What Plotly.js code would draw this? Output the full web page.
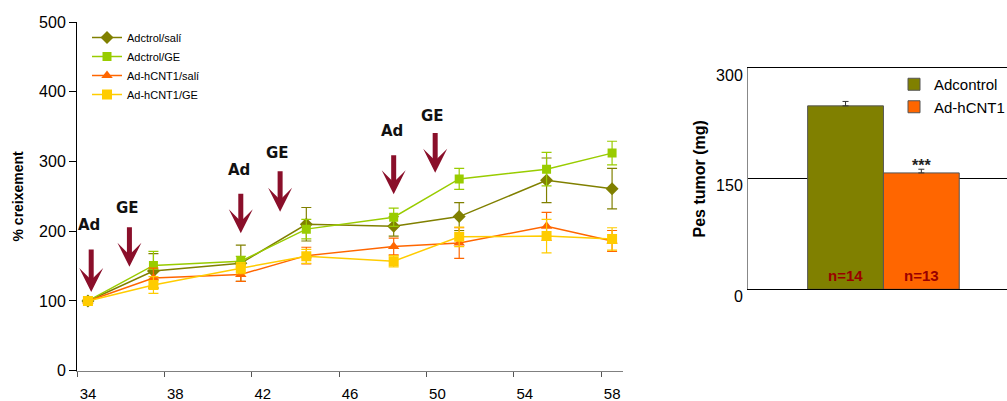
<!DOCTYPE html>
<html>
<head>
<meta charset="utf-8">
<script src="https://cdn.plot.ly/plotly-3.0.1.min.js"></script>
<style>html,body{margin:0;padding:0;background:#fff;}#chart{width:1007px;height:401px;}</style>
</head>
<body>
<div id="chart"></div>
<script>
// ---- Left chart: % growth vs day ----
const days = [34, 37, 41, 44, 48, 51, 55, 58];
const adctrolSali = [100, 143, 154, 210, 207, 221, 273, 261];
const adctrolSaliErr = [2, 25, 26, 24, 14, 20, 32, 29];
const adctrolGE = [100, 151, 157, 203, 220, 275, 289, 312];
const adctrolGEErr = [2, 20, 7, 14, 13, 15, 24, 17];
const hcntSali = [100, 133, 138, 165, 178, 183, 207, 186];
const hcntSaliErr = [2, 14, 10, 12, 12, 22, 20, 15];
const hcntGE = [100, 123, 147, 164, 157, 192, 193, 189];
const hcntGEErr = [2, 12, 8, 10, 8, 14, 24, 16];
const seriesNames = ['Adctrol/salí', 'Adctrol/GE', 'Ad-hCNT1/salí', 'Ad-hCNT1/GE'];
const xTickLabels = [34, 38, 42, 46, 50, 54, 58];
const yTicksLeft = [0, 100, 200, 300, 400, 500];

// treatment arrows: day, tip value, tail value, label, label value
const arrowLabels = ['Ad', 'GE', 'Ad', 'GE', 'Ad', 'GE'];
const arrowDays = [34.15, 35.9, 41.0, 42.8, 48.0, 49.9];
const arrowTips = [113, 149, 197, 228, 253, 284];
const arrowTails = [176, 208, 256, 288, 311, 343];
const arrowLabelY = [209, 233, 288, 312, 344, 365];

// ---- Right chart: tumour weight ----
const barNames = ['Adcontrol', 'Ad-hCNT1'];
const barValues = [249, 158];
const barErrors = [6, 5];
const barN = ['n=14', 'n=13'];
const yTicksRight = [0, 150, 300];

const W = 1007, H = 401;
const px = v => v / W, py = v => 1 - v / H;

const colors = ['#808000', '#99CC00', '#FF6600', '#FFCC00'];
const symbols = ['diamond', 'square', 'triangle-up', 'square'];
const sizes = [10, 9, 10, 10];
const ys = [adctrolSali, adctrolGE, hcntSali, hcntGE];
const errs = [adctrolSaliErr, adctrolGEErr, hcntSaliErr, hcntGEErr];

const traces = [];
for (let i = 0; i < 4; i++) {
  traces.push({
    type: 'scatter', mode: 'lines+markers',
    x: days, y: ys[i], name: seriesNames[i],
    xaxis: 'x', yaxis: 'y', legend: 'legend',
    line: {color: colors[i], width: 1.5},
    marker: {color: colors[i], symbol: symbols[i], size: sizes[i]},
    error_y: {type: 'data', array: errs[i], visible: true, color: colors[i], thickness: 1.2, width: 5}
  });
}
const barColors = ['#808000', '#FF6600'];
for (let i = 0; i < 2; i++) {
  traces.push({
    type: 'bar', x: [0], y: [barValues[i]], name: barNames[i],
    xaxis: 'x3', yaxis: 'y3', legend: 'legend2',
    marker: {color: barColors[i], line: {color: '#555555', width: 1}},
    error_y: {type: 'data', symmetric: false, array: [barErrors[i]], arrayminus: [0], color: '#333333', thickness: 1, width: 3}
  });
}

const font = {family: 'Liberation Sans, Arial, sans-serif', color: '#000'};
const annotations = [];
const arrowColor = '#8A0F2A';
for (let i = 0; i < arrowDays.length; i++) {
  annotations.push({
    xref: 'x', yref: 'y', axref: 'x', ayref: 'y',
    x: arrowDays[i], y: arrowTips[i], ax: arrowDays[i], ay: arrowTails[i],
    text: '', showarrow: true, arrowhead: 3, arrowwidth: 5, arrowsize: 0.8, arrowcolor: arrowColor
  });
  annotations.push({
    xref: 'x', yref: 'y', x: arrowDays[i] - 0.1, y: arrowLabelY[i], showarrow: false,
    text: '<b>' + arrowLabels[i] + '</b>',
    font: {family: 'DejaVu Sans, Verdana, sans-serif', size: 15, color: '#111'}
  });
}
const barOffsets = [-0.15, 0.15];
annotations.push({
  xref: 'x3', yref: 'y3', x: barOffsets[1], y: barValues[1] + barErrors[1], yanchor: 'bottom', yshift: -7,
  showarrow: false, text: '<b>***</b>', font: {family: font.family, size: 16, color: '#222'}
});
for (let i = 0; i < 2; i++) {
  annotations.push({
    xref: 'x3', yref: 'y3', x: barOffsets[i], y: 0, yanchor: 'bottom', yshift: 3,
    showarrow: false, text: '<b>' + barN[i] + '</b>', font: {family: font.family, size: 15, color: '#990000'}
  });
}

const layout = {
  width: W, height: H,
  margin: {l: 0, r: 0, t: 0, b: 0, autoexpand: false},
  paper_bgcolor: '#fff', plot_bgcolor: 'rgba(0,0,0,0)',
  font: font,
  showlegend: true,
  barmode: 'group', bargap: 0.4,
  xaxis: {
    domain: [px(77), px(623)], anchor: 'y', range: [33.5, 58.5],
    tickvals: xTickLabels.map(v => v - 0.5), ticktext: xTickLabels.map(String),
    ticklabelshift: 11, ticklabelstandoff: 4, ticks: 'outside', ticklen: 5, tickcolor: '#555',
    showline: true, linecolor: '#808080', linewidth: 1.5, showgrid: false, zeroline: false,
    tickfont: {size: 15, family: font.family}
  },
  yaxis: {
    domain: [1 - 370.7 / H, 1 - 22 / H], anchor: 'x', range: [0, 500],
    tickvals: yTicksLeft, ticks: 'outside', ticklen: 7, tickcolor: '#000',
    showline: true, linecolor: '#000', linewidth: 1, showgrid: false, zeroline: false,
    tickfont: {size: 16, family: font.family},
    title: {text: '<b>% creixement</b>', font: {size: 14, family: font.family}, standoff: 12}
  },
  xaxis3: {
    domain: [px(748), 1], anchor: 'y3', range: [-0.536, 0.489], type: 'linear',
    showticklabels: false, ticks: '', showgrid: false, zeroline: false,
    showline: true, mirror: true, linecolor: '#000', linewidth: 1
  },
  yaxis3: {
    domain: [1 - 289.3 / H, 1 - 68.3 / H], anchor: 'x3', range: [0, 300],
    tickvals: yTicksRight, ticks: '', showgrid: true, gridcolor: '#000', gridwidth: 1,
    showline: true, linecolor: '#888', zeroline: false,
    ticklabelstandoff: 1, ticklabelshift: 7,
    tickfont: {size: 16, family: font.family},
    title: {text: '<b>Pes tumor (mg)</b>', font: {size: 16, family: font.family}, standoff: 6}
  },
  legend: {
    x: px(87), y: py(23), xanchor: 'left', yanchor: 'top',
    bgcolor: 'rgba(0,0,0,0)', font: {size: 11, family: font.family}, tracegroupgap: 0
  },
  legend2: {
    x: px(894), y: py(68), xanchor: 'left', yanchor: 'top',
    bgcolor: 'rgba(0,0,0,0)', font: {size: 15, family: font.family}
  },
  annotations: annotations
};

Plotly.newPlot('chart', traces, layout, {displayModeBar: false, staticPlot: true});
</script>
</body>
</html>
